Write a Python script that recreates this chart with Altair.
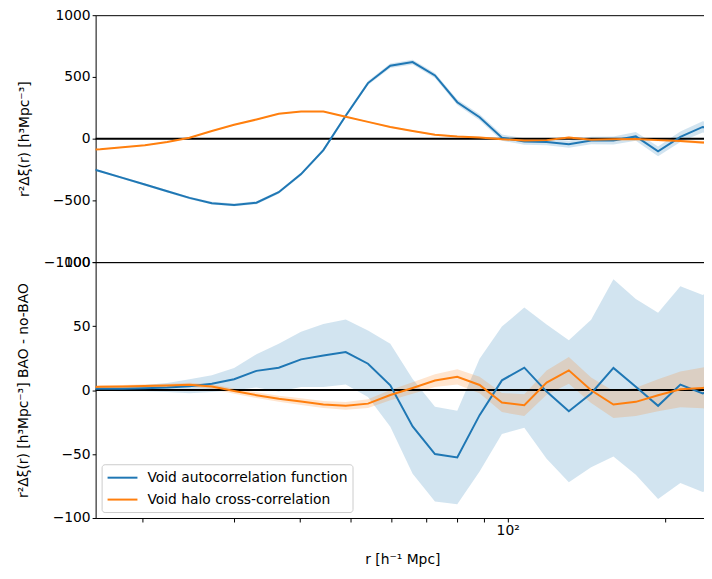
import altair as alt
import pandas as pd

# radial bins (h^-1 Mpc), log-spaced
r = [15.08, 16.63, 18.35, 20.25, 22.34, 24.64, 27.19, 29.99, 33.09, 36.50,
     40.27, 44.43, 49.02, 54.07, 59.65, 65.81, 72.61, 80.10, 88.37, 97.49,
     107.6, 118.7, 130.9, 144.4, 159.3, 175.8, 193.9, 213.9, 236.0, 260.4]

names = ["Void autocorrelation function", "Void halo cross-correlation"]
colors = ["#1f77b4", "#ff7f0e"]

# top panel: r^2 Delta xi
blue_top = [-210, -264, -318, -372, -426, -480, -523, -537, -519, -434,
            -287, -93, 186, 450, 591, 620, 512, 295, 173, 8,
            -23, -27, -46, -15, -15, 18, -103, 15, 95, 60]
blue_top_err = [8, 8, 9, 9, 10, 10, 11, 11, 12, 12,
                13, 14, 15, 16, 18, 20, 20, 22, 24, 25,
                26, 27, 28, 30, 32, 35, 40, 42, 45, 48]
orange_top = [-95, -85, -70, -54, -27, 8, 62, 112, 155, 202,
              219, 219, 178, 136, 95, 62, 31, 18, 10, -4,
              -15, -12, 10, -8, -4, -2, -12, -19, -31, -39]
orange_top_err = [4, 4, 4, 4, 4, 4, 4, 5, 5, 5,
                  5, 5, 5, 5, 6, 6, 6, 6, 6, 7,
                  7, 7, 8, 8, 8, 9, 10, 11, 12, 12]

# bottom panel: BAO - no-BAO
blue_bot = [1, 1, 1, 1.5, 2, 3, 5, 8.5, 15, 17.5,
            24, 27, 29.7, 20.6, 3.7, -28.4, -50, -52.7, -19.6, 7.6,
            17.5, -1.2, -16.5, -2.7, 17.3, 2.5, -12.3, 4.3, -2.7, 5]
blue_bot_err = [1.2, 1.5, 2, 2.5, 3.5, 5.5, 6.5, 8.7, 13, 18.7,
                21.6, 24.6, 25.4, 26, 32.4, 37, 37, 36.5, 44, 42,
                47, 52.5, 55.5, 57.7, 69.3, 68.7, 72.8, 76.9, 77, 79]
orange_bot = [2.3, 2.5, 2.7, 3.1, 3.5, 4.1, 2.7, -0.8, -4, -6.8,
              -9, -11.3, -12.3, -10.6, -3.9, 1.6, 7.4, 10.3, 4, -9.7,
              -11.8, 5.8, 15.4, -0.2, -11.3, -9.2, -4, 0.6, 1.7, 2]
orange_bot_err = [1.2, 1.2, 1.3, 1.4, 1.5, 1.6, 1.8, 2, 2.2, 2.4,
                  2.6, 2.8, 3, 3.5, 4, 4.5, 5, 6, 6.5, 7.5,
                  8.5, 9.5, 10.5, 10, 10.5, 11, 12.5, 14, 16, 17]

top_ticks = [-1000, -500, 0, 500, 1000]
bot_ticks = [-100, -50, 0, 50, 100]
x_ticks = [20, 30, 40, 50, 60, 70, 80, 90, 100, 200]


def frame(vals, errs, name):
    return pd.DataFrame({
        "r": r,
        "v": vals,
        "lo": [a - b for a, b in zip(vals, errs)],
        "hi": [a + b for a, b in zip(vals, errs)],
        "series": name,
    })


top_df = pd.concat([frame(blue_top, blue_top_err, names[0]),
                    frame(orange_top, orange_top_err, names[1])])
bot_df = pd.concat([frame(blue_bot, blue_bot_err, names[0]),
                    frame(orange_bot, orange_bot_err, names[1])])

xscale = alt.Scale(type="log", domain=[16.3, 242.6], nice=False)
color_scale = alt.Scale(domain=names, range=colors)
FONT = "DejaVu Sans"
FS = 13.9


def panel(df, ydom, yvals, ytitle, title_pad, xaxis, legend, height):
    yscale = alt.Scale(domain=ydom, nice=False, zero=False)
    yaxis = alt.Axis(values=yvals, format="d", title=ytitle, titlePadding=title_pad,
                     grid=False, domain=False, tickSize=3.5, labelPadding=2)
    x = alt.X("r:Q", scale=xscale, axis=xaxis)
    base = alt.Chart(df)
    layers = []
    for n, c in zip(names, colors):
        layers.append(
            base.transform_filter(alt.datum.series == n)
            .mark_area(opacity=0.2, color=c, clip=True)
            .encode(x=x, y=alt.Y("lo:Q", scale=yscale, axis=yaxis), y2="hi:Q")
        )
    zero = alt.Chart(pd.DataFrame({"z": [0]})).mark_rule(color="black", strokeWidth=2).encode(
        y=alt.Y("z:Q", scale=yscale, axis=yaxis))
    layers.append(zero)
    lines = base.mark_line(strokeWidth=2, clip=True).encode(
        x=x,
        y=alt.Y("v:Q", scale=yscale, axis=yaxis),
        color=alt.Color("series:N", scale=color_scale, legend=legend),
    )
    layers.append(lines)
    return alt.layer(*layers).properties(width=616, height=height)


top = panel(top_df, [-1000, 1000], top_ticks, "r²Δξ(r) [h³Mpc⁻³]", 12, None, None, 248)

bottom_xaxis = alt.Axis(values=x_ticks, labelExpr="datum.value == 100 ? '10²' : ''",
                        title="r [h⁻¹ Mpc]", grid=False, domain=False, tickSize=4,
                        labelPadding=2, titlePadding=15, labelFlush=False)
legend = alt.Legend(title=None, orient="bottom-left", offset=6, symbolType="M-1,0L3,0",
                    symbolSize=225, symbolStrokeWidth=2, labelOffset=24, rowPadding=6,
                    padding=5, labelLimit=0, labelFontSize=FS, labelFont=FONT,
                    labelColor="black", strokeColor="#cccccc", fillColor="rgba(255,255,255,0.8)",
                    cornerRadius=3)
bottom = panel(bot_df, [-100, 100], bot_ticks, "r²Δξ(r) [h³Mpc⁻³] BAO - no-BAO", 22,
               bottom_xaxis, legend, 257)

chart = alt.vconcat(top, bottom, spacing=0, bounds="flush").resolve_scale(color="independent").configure(
    font=FONT,
    padding={"left": 7, "top": -2, "right": -7, "bottom": 0},
).configure_view(stroke="black", strokeWidth=1).configure_axis(
    labelFont=FONT, titleFont=FONT, labelFontSize=FS, titleFontSize=FS,
    labelColor="black", titleColor="black", tickColor="black", titleFontWeight="normal",
)

chart.save("out.html", embed_options={"renderer": "svg", "actions": False})
